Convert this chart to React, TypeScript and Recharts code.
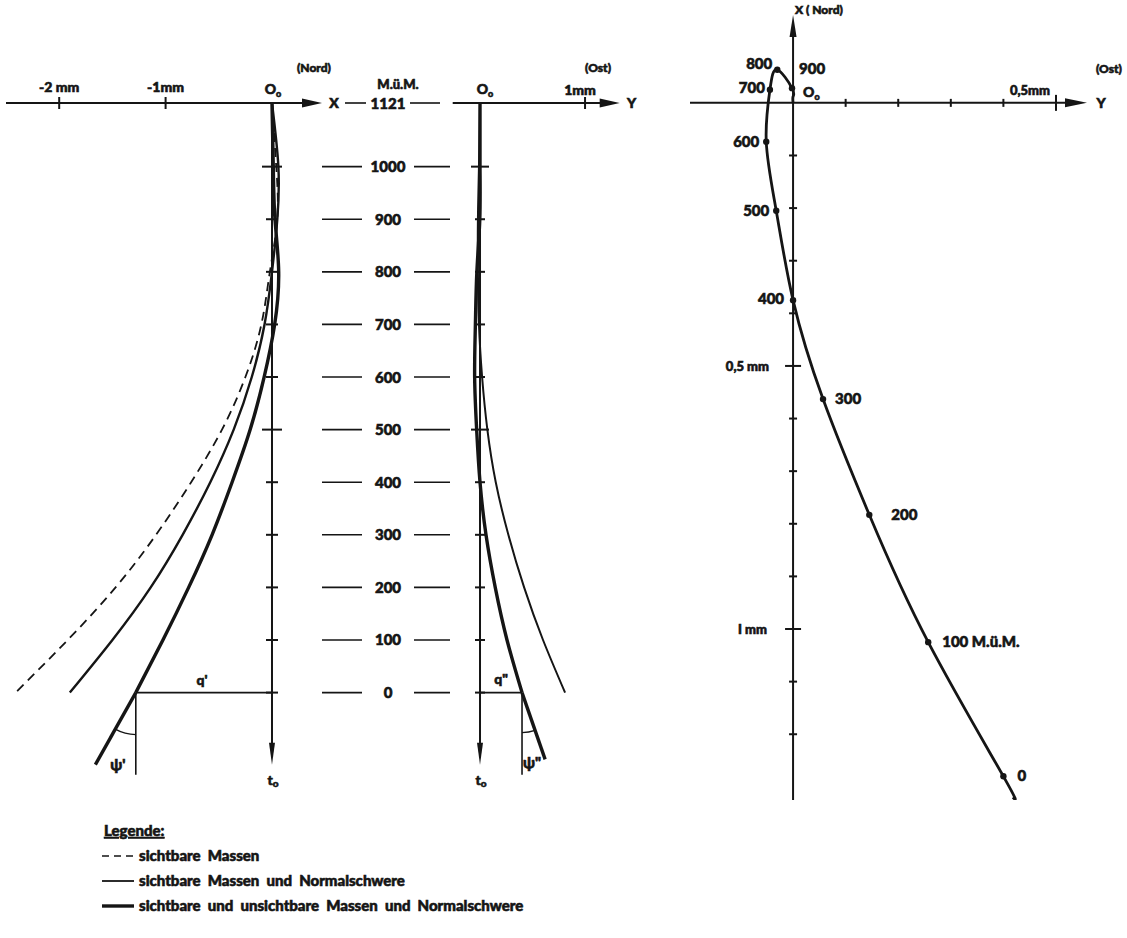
import React from "react";
import { LineChart, Line, XAxis, YAxis, ReferenceLine, ReferenceDot } from "recharts";

const INK = "#151515";
const FONT = "Lato, 'DejaVu Sans', sans-serif";
const WEIGHT = 900;
// a thin outline makes the bold face as heavy as the drawing's lettering
const heavy = { stroke: INK, strokeWidth: 0.6, paintOrder: "stroke" as const };

// Stationen (M.ü.M.)
const stationHeights = [1121, 1000, 900, 800, 700, 600, 500, 400, 300, 200, 100, 0];
const heightTicks = [1121, 1000, 900, 800, 700, 600, 500, 400, 300, 200, 100, 0];
const bigHeightTicks = [1000, 500];

// Nord-Komponente der Lotabweichungskurve (mm)
const northVisible = [0, 0.04, 0.05, -0.02, -0.1, -0.25, -0.47, -0.76, -1.09, -1.47, -1.92, -2.41];
const northNormal = [0, 0.06, 0.05, 0.0, -0.07, -0.19, -0.36, -0.58, -0.84, -1.14, -1.5, -1.9];
const northTotal = [0, 0.012, 0.028, 0.063, 0.025, -0.074, -0.205, -0.375, -0.563, -0.783, -1.025, -1.28];

// Ost-Komponente (mm)
const eastNormal = [0, -0.01, -0.02, -0.02, -0.01, 0.02, 0.07, 0.15, 0.27, 0.42, 0.6, 0.81];
const eastTotal = [0, 0, -0.002, -0.03, -0.044, -0.051, -0.032, 0, 0.057, 0.145, 0.257, 0.4];

// Tangente unter 0 M.ü.M. (Winkel psi)
const tailNorth = { v: -1.66, h: -137 };
const tailEast = { v: 0.62, h: -127 };
const footHeight = -156;
const planTail = { e: 0.418, n: -1.32 };

// Achsenteilung
const northAxisTicks = [-2, -1];
const eastAxisTicks = [1];
const planTicksE = [0.1, 0.2, 0.3, 0.4, 0.5];
const planTicksN = [-0.1, -0.2, -0.3, -0.4, -0.5, -0.6, -0.7, -0.8, -0.9, -1.0, -1.1, -1.2];
const planBigTicks = [0.5, -0.5, -1.0];

const profile = (vals: number[]) => stationHeights.map((h, i) => ({ v: vals[i], h }));
const planData = [
  ...stationHeights.map((h, i) => ({ e: eastTotal[i], n: northTotal[i], h })),
  { e: planTail.e, n: planTail.n, h: null as number | null },
];

// label placement of the plan points: [anchor, dx, dy]
const planLabelPos: Record<number, [string, number, number]> = {
  0: ["start", 14, 5],
  100: ["start", 14, 5],
  200: ["start", 22, 5],
  300: ["start", 12, 5],
  400: ["end", -9, 4],
  500: ["end", -7, 5],
  600: ["end", -7, 5],
  700: ["end", -5, 3],
  800: ["end", -5, -1],
  900: ["start", 7, -14],
};

const txt =
  (s: React.ReactNode, dx: number, dy: number, anchor = "middle", size = 14) =>
  (p: any) =>
    (
      <text x={p.cx + dx} y={p.cy + dy} textAnchor={anchor} fontSize={size} fontFamily={FONT} fontWeight={WEIGHT} fill={INK} {...heavy}>
        {s}
      </text>
    );

const tickV = (half: number) => (p: any) =>
  <line x1={p.cx} x2={p.cx} y1={p.cy - half} y2={p.cy + half} stroke={INK} strokeWidth={2} />;
const tickH = (half: number) => (p: any) =>
  <line x1={p.cx - half} x2={p.cx + half} y1={p.cy} y2={p.cy} stroke={INK} strokeWidth={2} />;

const arrow = (len: number, half: number, w = 2) => (p: any) => {
  const { x1, y1, x2, y2 } = p;
  const a = Math.atan2(y2 - y1, x2 - x1);
  const bx = x2 - len * Math.cos(a);
  const by = y2 - len * Math.sin(a);
  const nx = -Math.sin(a) * half;
  const ny = Math.cos(a) * half;
  return (
    <g>
      <line x1={x1} y1={y1} x2={bx + 2 * Math.cos(a)} y2={by + 2 * Math.sin(a)} stroke={INK} strokeWidth={w} />
      <polygon points={`${x2},${y2} ${bx + nx},${by + ny} ${bx - nx},${by - ny}`} fill={INK} />
    </g>
  );
};

// tangent line below the curve end with the angle arc to the vertical
const tangentWithArc = (r: number) => (p: any) => {
  const { x1, y1, x2, y2 } = p;
  const a = Math.atan2(y2 - y1, x2 - x1);
  const sx = x1 + r * Math.cos(a);
  const sy = y1 + r * Math.sin(a);
  const sweep = a > Math.PI / 2 ? 0 : 1;
  return (
    <g>
      <line x1={x1} y1={y1} x2={x2} y2={y2} stroke={INK} strokeWidth={3.4} />
      <path d={`M${sx},${sy} A${r},${r} 0 0 ${sweep} ${x1},${y1 + r}`} fill="none" stroke={INK} strokeWidth={1.4} />
    </g>
  );
};

const Oo = () => (
  <>
    O<tspan fontSize={9} dy={3}>o</tspan>
  </>
);

function HeightTick(props: any) {
  const { y, payload } = props;
  const top = payload.value === heightTicks[0];
  return (
    <g>
      {top && (
        <text x={78} y={y - 14} textAnchor="middle" fontSize={13} fontFamily={FONT} fontWeight={WEIGHT} fill={INK} {...heavy}>
          M.ü.M.
        </text>
      )}
      <line x1={top ? 25 : 2} x2={top ? 46 : 42} y1={y} y2={y} stroke={INK} strokeWidth={1.6} />
      <text x={68} y={y + 5.5} textAnchor="middle" fontSize={15} fontFamily={FONT} fontWeight={WEIGHT} fill={INK} {...heavy}>
        {payload.value}
      </text>
      <line x1={top ? 90 : 94} x2={top ? 120 : 130} y1={y} y2={y} stroke={INK} strokeWidth={1.6} />
    </g>
  );
}

const endNorth = northTotal[northTotal.length - 1];
const endEast = eastTotal[eastTotal.length - 1];

function NorthProfile() {
  return (
    <LineChart width={340} height={800} margin={{ top: 103, right: 18, bottom: 18, left: 6 }}>
      <XAxis type="number" dataKey="v" domain={[-2.5, 0.47]} allowDataOverflow hide />
      <YAxis type="number" dataKey="h" domain={[-170, 1121]} allowDataOverflow hide />
      <ReferenceLine ifOverflow="visible" segment={[{ x: -2.5, y: 1121 }, { x: 0.47, y: 1121 }]} shape={arrow(20, 4.5)} />
      <ReferenceLine ifOverflow="visible" segment={[{ x: 0, y: 1121 }, { x: 0, y: tailNorth.h }]} shape={arrow(22, 3)} />
      {northAxisTicks.map((t) => (
        <ReferenceDot key={`nt${t}`} x={t} y={1121} shape={tickV(6)} />
      ))}
      {heightTicks.slice(1).map((h) => (
        <ReferenceDot key={`nh${h}`} x={0} y={h} shape={tickH(bigHeightTicks.includes(h) ? 10 : 6)} />
      ))}
      <ReferenceLine ifOverflow="visible" segment={[{ x: endNorth, y: 0 }, { x: 0, y: 0 }]} stroke={INK} strokeWidth={1.6} />
      <ReferenceLine ifOverflow="visible" segment={[{ x: endNorth, y: 0 }, { x: endNorth, y: footHeight }]} stroke={INK} strokeWidth={1.6} />
      <ReferenceLine ifOverflow="visible" segment={[{ x: endNorth, y: 0 }, { x: tailNorth.v, y: tailNorth.h }]} shape={tangentWithArc(42)} />
      <Line data={profile(northVisible)} dataKey="h" type="natural" stroke={INK} strokeWidth={1.8} strokeDasharray="9 6" dot={false} isAnimationActive={false} />
      <Line data={profile(northNormal)} dataKey="h" type="natural" stroke={INK} strokeWidth={2.4} dot={false} isAnimationActive={false} />
      <Line data={profile(northTotal)} dataKey="h" type="natural" stroke={INK} strokeWidth={3.4} dot={false} isAnimationActive={false} />
      <ReferenceDot x={-2} y={1121} shape={txt("-2 mm", 0, -11)} />
      <ReferenceDot x={-1} y={1121} shape={txt("-1mm", 0, -11)} />
      <ReferenceDot x={0} y={1121} shape={txt(<Oo />, 1, -9)} />
      <ReferenceDot x={0} y={1121} shape={txt("(Nord)", 42, -31, "middle", 12)} />
      <ReferenceDot x={0.47} y={1121} shape={txt("X", 12, 5, "middle", 14)} />
      <ReferenceDot x={endNorth / 2} y={0} shape={txt("q'", -2, -8)} />
      <ReferenceDot x={endNorth} y={0} shape={txt("ψ'", -18, 77, "middle", 15)} />
      <ReferenceDot x={0} y={0} shape={txt(<tspan>t<tspan fontSize={10} dy={2}>o</tspan></tspan>, 1, 92)} />
    </LineChart>
  );
}

function EastProfile() {
  return (
    <LineChart width={320} height={800} margin={{ top: 103, right: 20.3, bottom: 18, left: 2.7 }}>
      <XAxis type="number" dataKey="v" domain={[-0.26, 1.33]} allowDataOverflow hide />
      <YAxis
        type="number"
        dataKey="h"
        domain={[-170, 1121]}
        allowDataOverflow
        ticks={heightTicks}
        interval={0}
        width={130}
        axisLine={false}
        tickLine={false}
        tick={(p: any) => <HeightTick {...p} />}
      />
      <ReferenceLine ifOverflow="visible" segment={[{ x: -0.26, y: 1121 }, { x: 1.33, y: 1121 }]} shape={arrow(20, 4.5)} />
      <ReferenceLine ifOverflow="visible" segment={[{ x: 0, y: 1121 }, { x: 0, y: tailNorth.h }]} shape={arrow(22, 3)} />
      {eastAxisTicks.map((t) => (
        <ReferenceDot key={`et${t}`} x={t} y={1121} shape={tickV(6)} />
      ))}
      {heightTicks.slice(1).map((h) => (
        <ReferenceDot key={`eh${h}`} x={0} y={h} shape={tickH(bigHeightTicks.includes(h) ? 9 : 5)} />
      ))}
      <ReferenceLine ifOverflow="visible" segment={[{ x: 0, y: 0 }, { x: endEast, y: 0 }]} stroke={INK} strokeWidth={1.6} />
      <ReferenceLine ifOverflow="visible" segment={[{ x: endEast, y: 0 }, { x: endEast, y: footHeight }]} stroke={INK} strokeWidth={1.6} />
      <ReferenceLine ifOverflow="visible" segment={[{ x: endEast, y: 0 }, { x: tailEast.v, y: tailEast.h }]} shape={tangentWithArc(40)} />
      <Line data={profile(eastNormal)} dataKey="h" type="natural" stroke={INK} strokeWidth={2} dot={false} isAnimationActive={false} />
      <Line data={profile(eastTotal)} dataKey="h" type="natural" stroke={INK} strokeWidth={3.4} dot={false} isAnimationActive={false} />
      <ReferenceDot x={0} y={1121} shape={txt(<Oo />, 5, -9)} />
      <ReferenceDot x={1} y={1121} shape={txt("1mm", -5, -8)} />
      <ReferenceDot x={1} y={1121} shape={txt("(Ost)", 13, -31, "middle", 12)} />
      <ReferenceDot x={1.33} y={1121} shape={txt("Y", 12, 5, "middle", 14)} />
      <ReferenceDot x={endEast / 2} y={0} shape={txt('q"', 0, -9)} />
      <ReferenceDot x={endEast} y={0} shape={txt('ψ"', 10, 75, "middle", 15)} />
      <ReferenceDot x={0} y={0} shape={txt(<tspan>t<tspan fontSize={10} dy={2}>o</tspan></tspan>, 1, 92)} />
    </LineChart>
  );
}

function PlanView() {
  return (
    <LineChart width={447} height={830} margin={{ top: 15, right: 40, bottom: 30, left: 10 }}>
      <XAxis type="number" dataKey="e" domain={[-0.196, 0.559]} allowDataOverflow hide />
      <YAxis type="number" dataKey="n" domain={[-1.325, 0.167]} allowDataOverflow hide />
      <ReferenceLine ifOverflow="visible" segment={[{ x: -0.196, y: 0 }, { x: 0.559, y: 0 }]} shape={arrow(22, 4.5)} />
      <ReferenceLine ifOverflow="visible" segment={[{ x: 0, y: -1.325 }, { x: 0, y: 0.167 }]} shape={arrow(22, 3.5)} />
      {planTicksE.map((t) => (
        <ReferenceDot key={`pe${t}`} x={t} y={0} shape={tickV(planBigTicks.includes(t) ? 8 : 4)} />
      ))}
      {planTicksN.map((t) => (
        <ReferenceDot key={`pn${t}`} x={0} y={t} shape={tickH(planBigTicks.includes(t) ? 8 : 4)} />
      ))}
      <Line
        data={planData}
        dataKey="n"
        type="natural"
        stroke={INK}
        strokeWidth={2.8}
        isAnimationActive={false}
        dot={(p: any) =>
          p.payload.h !== null && planLabelPos[p.payload.h] ? (
            <circle key={`pd${p.index}`} cx={p.cx} cy={p.cy} r={3.2} fill={INK} />
          ) : (
            <g key={`pd${p.index}`} />
          )
        }
      />
      {planData
        .filter((d) => d.h !== null && planLabelPos[d.h as number])
        .map((d) => {
          const [anchor, dx, dy] = planLabelPos[d.h as number];
          const s = d.h === 100 ? "100   M.ü.M." : String(d.h);
          return <ReferenceDot key={`pl${d.h}`} x={d.e} y={d.n} shape={txt(s, dx, dy, anchor, 15)} />;
        })}
      <ReferenceDot x={0} y={0} shape={txt(<Oo />, 10, -6, "start")} />
      <ReferenceDot x={0} y={0.167} shape={txt("X ( Nord)", 2, -1, "start", 12)} />
      <ReferenceDot x={0.559} y={0} shape={txt("Y", 14, 5, "middle", 14)} />
      <ReferenceDot x={0.5} y={0} shape={txt("(Ost)", 53, -30, "middle", 12)} />
      <ReferenceDot x={0.5} y={0} shape={txt("0,5mm", -26, -8, "middle", 13)} />
      <ReferenceDot x={0} y={-0.5} shape={txt("0,5 mm", -24, 5, "end", 13)} />
      <ReferenceDot x={0} y={-1.0} shape={txt("I mm", -26, 5, "end", 13)} />
    </LineChart>
  );
}

const legendItems = [
  { label: "sichtbare  Massen", dash: "7 5", width: 1.6 },
  { label: "sichtbare  Massen  und  Normalschwere", dash: undefined, width: 1.8 },
  { label: "sichtbare  und  unsichtbare  Massen  und  Normalschwere", dash: undefined, width: 3.4 },
];

function Legend() {
  return (
    <svg width={600} height={120} style={{ position: "absolute", left: 0, top: 810 }}>
      <text x={104} y={26} fontSize={15} fontFamily={FONT} fontWeight={WEIGHT} fill={INK} textDecoration="underline" {...heavy}>
        Legende:
      </text>
      {legendItems.map((it, i) => (
        <g key={it.label}>
          <line x1={102} x2={134} y1={46 + i * 25} y2={46 + i * 25} stroke={INK} strokeWidth={it.width} strokeDasharray={it.dash} />
          <text x={139} y={51 + i * 25} fontSize={15} fontFamily={FONT} fontWeight={WEIGHT} fill={INK} style={{ whiteSpace: "pre" }} {...heavy}>
            {it.label}
          </text>
        </g>
      ))}
    </svg>
  );
}

export default function App() {
  return (
    <div style={{ position: "absolute", left: 0, top: 0, width: 1127, height: 938, background: "#fff", overflow: "hidden" }}>
      <div style={{ position: "absolute", left: 0, top: 0 }}>
        <NorthProfile />
      </div>
      <div style={{ position: "absolute", left: 320, top: 0 }}>
        <EastProfile />
      </div>
      <div style={{ position: "absolute", left: 680, top: 0 }}>
        <PlanView />
      </div>
      <Legend />
    </div>
  );
}
